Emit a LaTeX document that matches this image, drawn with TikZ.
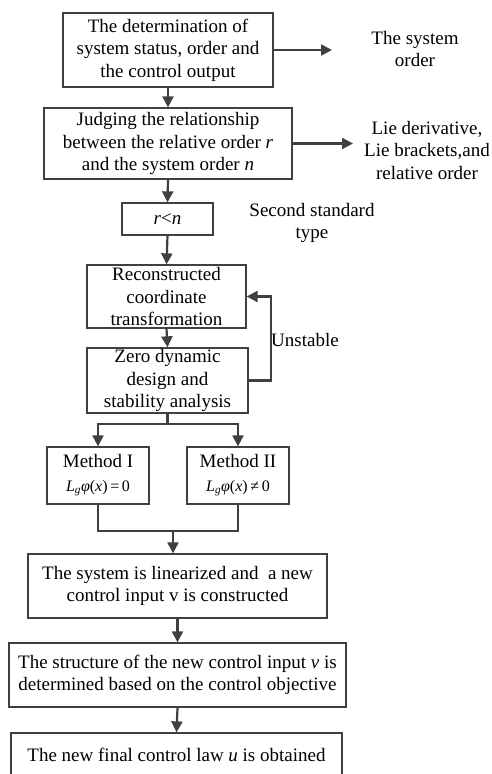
\documentclass[tikz,border=0pt]{standalone}
\usepackage{fontspec}
\setmainfont{Liberation Serif}
\usetikzlibrary{arrows.meta,positioning,calc}
\definecolor{linegray}{HTML}{404040}
\newcommand\formsize{\fontsize{16}{17}\selectfont}

\begin{document}
\begin{tikzpicture}[x=1pt, y=-1pt,
    font=\fontsize{19}{22.5}\selectfont,
    box/.style={draw=linegray, line width=1.3pt, align=center, inner sep=0pt},
    arr/.style={draw=linegray, line width=2.2pt, -{Triangle[length=11pt,width=11pt]}},
    line/.style={draw=linegray, line width=2.2pt},
    lbl/.style={align=center, inner sep=0pt}]
    %%Background
    \useasboundingbox (0,0) rectangle (491,774);
    \clip (0,0) rectangle (491,774);

    %%Main column
    \node[box, minimum width=210pt, minimum height=74pt] (det) at (168,50)
        {The determination of\\system status, order and\\the control output};
    \node[box, minimum width=248pt, minimum height=71pt] (judge) at (168,143.5)
        {Judging the relationship\\between the relative order \textit{r}\\and the system order \textit{n}};
    \node[box, minimum width=91pt, minimum height=32pt] (rn) at (167.5,219)
        {\textit{r}<\textit{n}};
    \node[box, minimum width=159pt, minimum height=63pt] (rec) at (166.5,296.5)
        {Reconstructed\\coordinate\\transformation};
    \node[box, minimum width=161pt, minimum height=65pt] (zero) at (167.5,380.5)
        {Zero dynamic\\design and\\stability analysis};

    %%Two methods
    \node[box, minimum width=102pt, minimum height=57pt] (m1) at (98,475.5)
        {Method I\\[1pt]{\formsize\textit{L}\textsubscript{\textit{g}}\textit{φ}(\textit{x})\,=\,0}};
    \node[box, minimum width=102pt, minimum height=57pt] (m2) at (238,475.5)
        {Method II\\[1pt]{\formsize\textit{L}\textsubscript{\textit{g}}\textit{φ}(\textit{x})\,≠\,0}};

    \node[box, minimum width=299pt, minimum height=64pt] (lin) at (177.5,586)
        {The system is linearized and \ a new\\control input v is constructed};
    \node[box, minimum width=337pt, minimum height=64pt] (struct) at (177.5,675)
        {The structure of the new control input \textit{v} is\\determined based on the control objective};
    \node[box, minimum width=331pt, minimum height=44pt] (law) at (176.5,755)
        {The new final control law \textit{u} is obtained};

    %%Side notes
    \node[lbl] (sysord) at (415,49) {The system\\order};
    \node[lbl] (lie) at (427,150) {Lie derivative,\\Lie brackets,and\\relative order};
    \node[lbl] (second) at (312,223) {Second standard\\type};
    \node[lbl] (unst) at (305,340) {Unstable};
    \coordinate (sysend) at (332,50);
    \coordinate (lieend) at (353,143.5);

    %%Arrows
    \draw[arr] (det.east) -- (sysend);
    \draw[arr] (judge.east) -- (lieend);
    \draw[arr] (det) -- (judge);
    \draw[arr] (judge.south) -- (rn.north);
    \draw[arr] (rn.south) -- (rec.north);
    \draw[arr] (rec.south) -- (zero.north);
    \draw[arr] (zero.east) -- ++(22,0) |- (rec.east);

    \coordinate (split) at ($(zero.south)+(0,10)$);
    \draw[line] (zero.south) -- (split);
    \draw[arr] (split) -| (m1.north);
    \draw[arr] (split) -| (m2.north);

    \coordinate (join) at ($(m1.south)!0.5!(m2.south)+(5,26)$);
    \draw[line] (m1.south) |- (join) -| (m2.south);
    \draw[arr] (join) -- (join |- lin.north);
    \draw[arr] (lin.south) -- (struct.north);
    \draw[arr] (struct.south) -- (law.north);

\end{tikzpicture}
\end{document}
